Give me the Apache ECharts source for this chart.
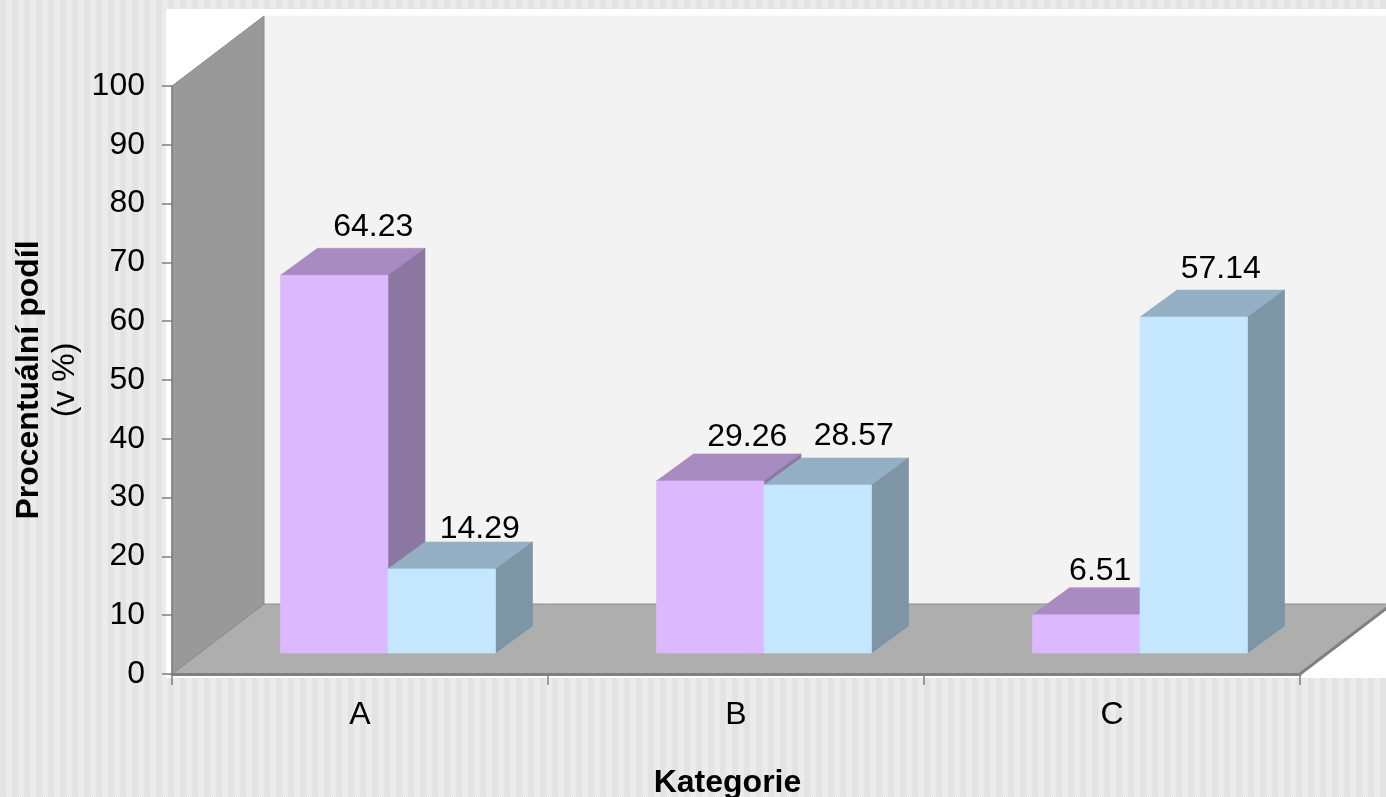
<!DOCTYPE html>
<html><head><meta charset="utf-8">
<style>html,body{margin:0;padding:0;background:#e4e4e4}#c{width:1386px;height:797px}</style>
<script src="https://cdn.jsdelivr.net/npm/echarts@6/dist/echarts.min.js"></script>
</head><body><div id="c"></div>
<script>
const categories = ['A','B','C'];
const purpleValues = [64.23, 29.26, 6.51];
const blueValues = [14.29, 28.57, 57.14];
const yTicks = [0,10,20,30,40,50,60,70,80,90,100];
// printed labels are nudged by hand in the source, so each one has its own offset from the bar's front-top centre
const purpleLabelNudge = [[39,-48],[37,-44],[14,-44]];
const blueLabelNudge = [[38,-40],[36,-49],[27,-48]];

const FONT = '"Liberation Sans", Arial, sans-serif';
const FS = 32;
const WALL_DX = 92, WALL_DY = 70, BAR_DX = 37, BAR_DY = 27, LIFT = 21, BAR_W = 107.5;
const FRONT_DX = LIFT / WALL_DY * WALL_DX + 0.4;

function tile() {
  const c = document.createElement('canvas'); c.width = 12; c.height = 4;
  const g = c.getContext('2d');
  g.fillStyle = '#e3e3e3'; g.fillRect(0,0,12,4);
  for (let y=0;y<4;y++) for (let x=6;x<12;x++) {
    g.fillStyle = (x+y)%2 ? '#f1f1f1' : '#e6e6e6';
    g.fillRect(x,y,1,1);
  }
  return c;
}
function poly(points, fill, stroke, lw) {
  return {type:'polygon', shape:{points}, style:{fill, stroke: stroke||fill, lineWidth: lw==null?0.6:lw}};
}
function wallsItem(params, api) {
  const band = api.size([1,0])[0];
  const p = api.coord([0,0]);
  const x0 = p[0]-band/2, y0 = p[1];
  const y1 = api.coord([0,100])[1];
  const x1 = x0 + band*categories.length;
  const bx = x0+WALL_DX, by0 = y0-WALL_DY, by1 = y1-WALL_DY;
  return {type:'group', children:[
    {type:'rect', shape:{x:x0-6,y:by1-7,width:1386-x0+6,height:y0+4-by1+7}, style:{fill:'#ffffff'}},
    poly([[bx,by1],[1386,by1],[1386,by0],[bx,by0]], '#f3f3f3'),
    poly([[x0,y0],[x1,y0],[x1+WALL_DX,by0],[bx,by0]], '#aeaeae', '#8f8f8f', 1),
    {type:'line', shape:{x1:x1,y1:y0,x2:x1+WALL_DX,y2:by0}, style:{stroke:'#808080',lineWidth:3}},
    poly([[x0,y1],[bx,by1],[bx,by0],[x0,y0]], '#999999', '#8a8a8a', 1)
  ]};
}
function barItem(offsetIndex, front, top, side, nudges) {
  return function(params, api) {
    const cat = api.value(0), val = api.value(1);
    const centre = api.coord([cat,0])[0];
    const base = api.coord([cat,0])[1] - LIFT;
    const h = api.coord([cat,0])[1] - api.coord([cat,val])[1];
    const groupLeft = centre + FRONT_DX - BAR_W;
    const l = groupLeft + offsetIndex*BAR_W, r = l+BAR_W, t = base-h;
    const n = nudges[params.dataIndex];
    return {type:'group', children:[
      poly([[l,t],[r,t],[r+BAR_DX,t-BAR_DY],[l+BAR_DX,t-BAR_DY]], top),
      poly([[r,t],[r+BAR_DX,t-BAR_DY],[r+BAR_DX,base-BAR_DY],[r,base]], side),
      {type:'rect', shape:{x:l,y:t,width:BAR_W,height:h}, style:{fill:front, stroke:front, lineWidth:0.6}},
      {type:'text', style:{text:val.toFixed(2), x:(l+r)/2+n[0], y:t+n[1], align:'center', verticalAlign:'middle', font:FS+'px '+FONT, fill:'#000'}}
    ]};
  };
}
const chart = echarts.init(document.getElementById('c'), null, {renderer:'canvas', width:1386, height:797});
chart.setOption({
  animation:false,
  backgroundColor:{image:tile(), repeat:'repeat'},
  grid:{left:172,right:86,top:86,bottom:123,containLabel:false,outerBoundsMode:'none'},
  xAxis:{type:'category',data:categories,z:10,
    name:'Kategorie',nameLocation:'middle',nameGap:93,
    nameTextStyle:{fontFamily:FONT,fontWeight:'bold',fontSize:FS,color:'#000',padding:[0,17,0,0]},
    axisLine:{lineStyle:{color:'#808080',width:3}},
    axisTick:{show:true,alignWithLabel:false,length:11,lineStyle:{color:'#808080',width:1.5}},
    axisLabel:{fontFamily:FONT,fontSize:FS,color:'#000',margin:25}},
  yAxis:{type:'value',min:0,max:100,interval:10,z:10,
    name:'{b|Procentuální podíl}\n{r|(v %)}',nameLocation:'middle',nameRotate:90,nameGap:85,
    nameTextStyle:{rich:{
      b:{fontFamily:FONT,fontWeight:'bold',fontSize:FS,color:'#000',lineHeight:36,align:'center'},
      r:{fontFamily:FONT,fontSize:FS,color:'#000',lineHeight:36,align:'center'}}},
    axisLine:{show:true,lineStyle:{color:'#808080',width:1.5}},
    axisTick:{show:true,length:10,lineStyle:{color:'#808080',width:1.5}},
    axisLabel:{fontFamily:FONT,fontSize:FS,color:'#000',margin:27,padding:[6,0,0,0],customValues:yTicks},
    splitLine:{show:false}},
  series:[
    {type:'custom',z:1,silent:true,clip:false,coordinateSystem:'cartesian2d',data:[[0,0]],renderItem:wallsItem},
    {type:'custom',z:3,silent:true,clip:false,data:categories.map((c,i)=>[i,purpleValues[i]]),encode:{x:0,y:1},
      renderItem:barItem(0,'#dcb9ff','#a88bc0','#8c77a3',purpleLabelNudge)},
    {type:'custom',z:4,silent:true,clip:false,data:categories.map((c,i)=>[i,blueValues[i]]),encode:{x:0,y:1},
      renderItem:barItem(1,'#c4e7ff','#94b0c4','#7e95a6',blueLabelNudge)}
  ]
});
</script></body></html>
